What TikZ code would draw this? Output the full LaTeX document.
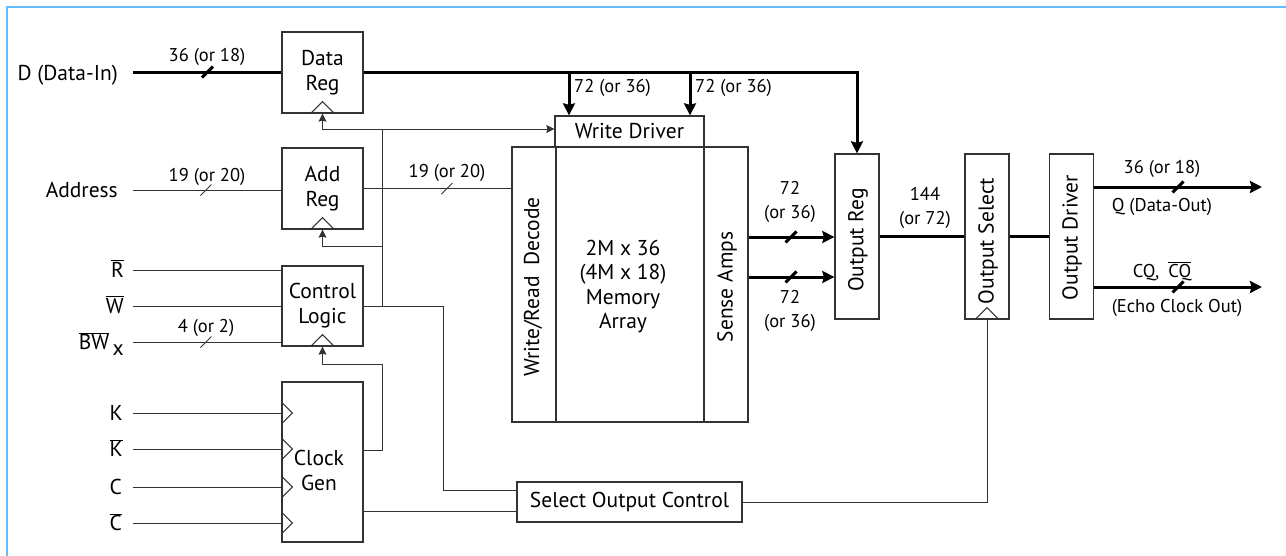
\documentclass[tikz,border=0pt]{standalone}
\usepackage{fontspec}
\setmainfont{PT Sans}
\usetikzlibrary{arrows.meta,calc}
\definecolor{framecol}{RGB}{102,187,255}
\newcommand\bitslash[2]{\draw[#1] ($(#2)+(-5.5,5.5)$) -- ($(#2)+(5.5,-5.5)$);}
\begin{document}
\begin{tikzpicture}[x=1pt,y=-1pt,
  box/.style={draw=black!80, line width=1.3pt, inner sep=0pt},
  txt/.style={font=\fontsize{21.5}{25}\selectfont, inner sep=0pt, align=center},
  rtxt/.style={txt, rotate=90},
  lbl/.style={font=\fontsize{18.5}{24}\selectfont, inner sep=0pt, align=center},
  inl/.style={font=\fontsize{21.5}{25}\selectfont, inner sep=0pt, anchor=base east},
  wire/.style={draw=black!80, line width=1pt},
  bus/.style={draw=black, line width=3pt},
  tipb/.style={-{Stealth[length=12pt,width=12pt,inset=1.5pt]}},
  tipt/.style={-{Stealth[length=8pt,width=8pt,inset=1pt]}},
  clkmark/.style={draw=black!80, line width=1pt},
]
\useasboundingbox (0,0) rectangle (1286,555);
\draw[framecol, line width=2.5pt] (7,580) -- (7,7) -- (1310,7);

% ---------- blocks ----------
\node[box,txt,minimum width=81,minimum height=81] (datareg) at (322.5,72.5) {Data\\Reg};
\node[box,txt,minimum width=81,minimum height=81] (addreg) at (322.5,188.5) {Add\\Reg};
\node[box,txt,minimum width=81,minimum height=80] (ctrl) at (322.5,306) {Control\\Logic};
\node[box,minimum width=81,minimum height=160] (clkgen) at (322.5,462) {};
\node[txt] (clkgenT) at (319,470) {Clock\\Gen};
\node[box,txt,minimum width=149,minimum height=31] (wdrv) at (629.5,131.5) {Write Driver};
\node[box,minimum width=44,minimum height=275] (decode) at (534,284.5) {};
\node[box,minimum width=148,minimum height=275] (array) at (630,284.5) {};
\node[box,minimum width=44,minimum height=275] (sense) at (726,284.5) {};
\node[rtxt] (decodeT) at (533,287) {Write/Read\enspace Decode};
\node[txt,font=\fontsize{21.5}{24.5}\selectfont] (arrayT) at (623,286.5) {2M x 36\\(4M x 18)\\Memory\\Array};
\node[rtxt] (senseT) at (727,287) {Sense Amps};
\node[box,minimum width=44,minimum height=165] (outreg) at (857,236.5) {};
\node[box,minimum width=44,minimum height=165] (outsel) at (987,236.5) {};
\node[box,minimum width=44,minimum height=165] (outdrv) at (1071.5,236.5) {};
\node[rtxt] (outregT) at (858,240) {Output Reg};
\node[rtxt] (outselT) at (988,241) {Output Select};
\node[rtxt] (outdrvT) at (1072,237.5) {Output Driver};
\node[box,txt,minimum width=225,minimum height=40] (soc) at (629.5,502) {Select Output Control};

% clock symbols
\foreach \n in {datareg,addreg,ctrl,outsel}
  \draw[clkmark] ($(\n.south)+(-12,0)$) -- ($(\n.south)+(0,-12)$) -- ($(\n.south)+(12,0)$);

% ---------- inputs ----------
\coordinate (iD) at (133,72.5);
\coordinate (iA) at (133,190);
\coordinate (iR) at (133,270);
\coordinate (iW) at (133,306);
\coordinate (iB) at (133,342);
\coordinate (iK) at (133,413);
\coordinate (iKb) at (133,449);
\coordinate (iC) at (133,487);
\coordinate (iCb) at (133,523);

\node[inl] (lD) at (118,80) {D (Data-In)};
\node[inl] (lA) at (118,197) {Address};
\node[inl] (lR) at (124,277) {$\overline{\mbox{R}}$};
\node[inl] (lW) at (124,313) {$\overline{\mbox{W}}$};
\node[inl] (lB) at (124,349.5) {$\overline{\mbox{BW}}$\,\raisebox{-6pt}{x}};
\node[inl] (lK) at (123,420.5) {K};
\node[inl] (lKb) at (123,456.5) {$\overline{\mbox{K}}$};
\node[inl] (lC) at (122,494.5) {C};
\node[inl] (lCb) at (122,530.5) {$\overline{\mbox{C}}$};

\draw[bus] (iD) -- (datareg.west |- iD);
\draw[wire] (iA) -- (addreg.west |- iA);
\draw[wire] (iR) -- (ctrl.west |- iR);
\draw[wire] (iW) -- (ctrl.west |- iW);
\draw[wire] (iB) -- (ctrl.west |- iB);
\foreach \c in {iK,iKb,iC,iCb}{
  \draw[wire] (\c) -- (clkgen.west |- \c);
  \draw[clkmark] ($(clkgen.west |- \c)+(0,-11)$) -- ($(clkgen.west |- \c)+(11,0)$) -- ($(clkgen.west |- \c)+(0,11)$);
}

\bitslash{bus}{207.5,72}
\node[lbl] (lD2) at (207,57) {36 (or 18)};
\bitslash{wire}{206,190}
\node[lbl] (lA2) at (207,176.5) {19 (or 20)};
\bitslash{wire}{206,342}
\node[lbl] (lB2) at (206,328) {4 (or 2)};

% ---------- address to decode ----------
\draw[wire] (addreg.east) -- (decode.west |- addreg.east);
\bitslash{wire}{447,188.5}
\node[lbl] (lA3) at (447,173) {19 (or 20)};

% ---------- clock / control network ----------
\coordinate (j1) at (382,129);
\coordinate (j2) at (382,306);
\coordinate (j3) at (382,246);
\coordinate (c3) at (443,490);
\coordinate (g0) at (382,450);
\coordinate (g1) at (382,364);
\coordinate (g2) at (0,511);
\draw[wire] (j2) -- (j1);
\draw[wire,tipt] (j1) -- (wdrv.west |- j1);
\draw[wire,tipt] (j1) -| (datareg.south);
\draw[wire,tipt] (j3) -| (addreg.south);
\draw[wire] (ctrl.east) -| (c3) -- (soc.west |- c3);
\draw[wire,tipt] (clkgen.east |- g0) -- (g0) -- (g1) -| (ctrl.south);
\draw[wire] (clkgen.east |- g2) -- (soc.west |- g2);
\draw[wire] (soc.east) -| (outsel.south);

% ---------- data bus ----------
\coordinate (b1) at (569,72.5);
\coordinate (b2) at (690,72.5);
\draw[bus,tipb] (datareg.east) -| (outreg.north);
\draw[bus,tipb] (b1) -- (b1 |- wdrv.north);
\draw[bus,tipb] (b2) -- (b2 |- wdrv.north);
\node[lbl,anchor=west] (lb1) at (574,88) {72 (or 36)};
\node[lbl,anchor=west] (lb2) at (695,88) {72 (or 36)};

% ---------- sense amps to output reg ----------
\coordinate (s1) at (0,237);
\coordinate (s2) at (0,277);
\draw[bus,tipb] (sense.east |- s1) -- (outreg.west |- s1);
\draw[bus,tipb] (sense.east |- s2) -- (outreg.west |- s2);
\bitslash{bus}{791,237}
\bitslash{bus}{791,277}
\node[lbl] (ls1) at (790,202) {72\\(or 36)};
\node[lbl] (ls2) at (790,311) {72\\(or 36)};

% ---------- output path ----------
\draw[bus] (outreg.east) -- (outsel.west);
\draw[bus] (outsel.east) -- (outdrv.west);
\node[lbl] (l144) at (925,208) {144\\(or 72)};

\coordinate (q) at (1262,187);
\coordinate (cq) at (1262,287);
\draw[bus,tipb] (outdrv.east |- q) -- (q);
\draw[bus,tipb] (outdrv.east |- cq) -- (cq);
\bitslash{bus}{1178,187}
\bitslash{bus}{1178,287}
\node[lbl] (lq1) at (1162,169) {36 (or 18)};
\node[lbl] (lq2) at (1162,207) {Q (Data-Out)};
\node[lbl,anchor=base] (lcq1) at (1162,277) {CQ,\enspace$\overline{\mbox{CQ}}$};
\node[lbl] (lcq2) at (1177,308) {(Echo Clock Out)};
\end{tikzpicture}
\end{document}
